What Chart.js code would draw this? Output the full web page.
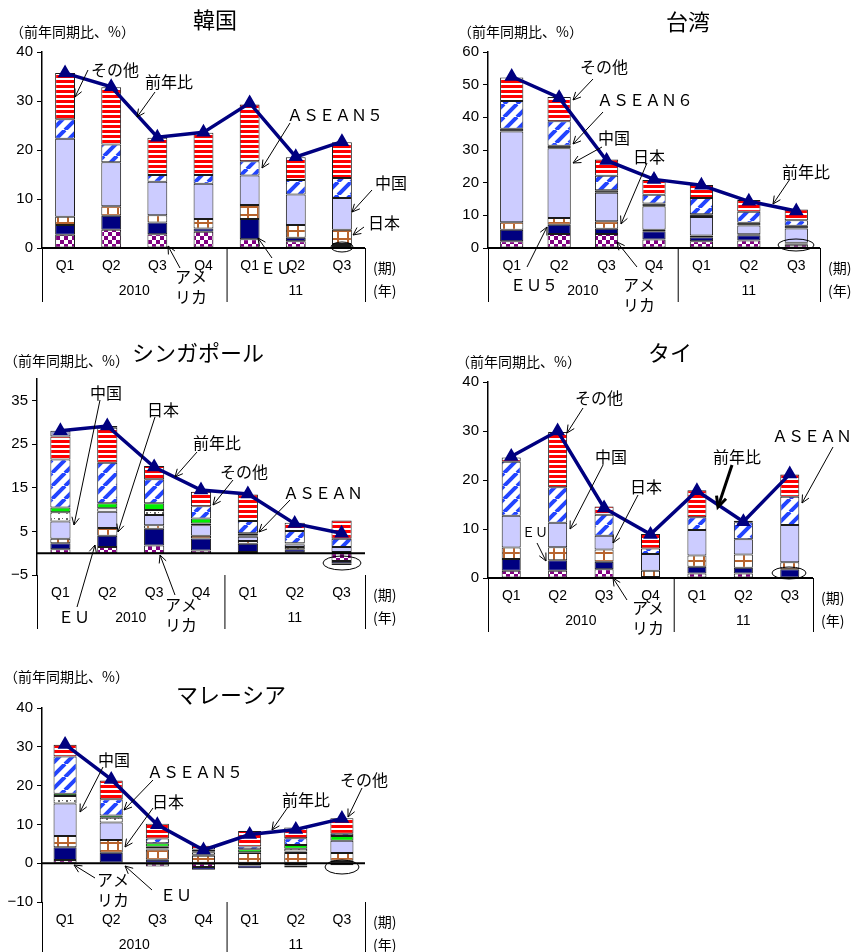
<!DOCTYPE html>
<html lang="ja">
<head>
<meta charset="utf-8">
<script src="https://cdn.jsdelivr.net/npm/chart.js@4.4.1/dist/chart.umd.min.js"></script>
<style>
  html, body { margin: 0; padding: 0; background: #fff; width: 852px; height: 952px; overflow: hidden; position: relative; }
  canvas { position: absolute; }
</style>
</head>
<body>
<canvas id="kr" width="426" height="330" style="left:0;top:0"></canvas>
<canvas id="tw" width="426" height="330" style="left:426px;top:0"></canvas>
<canvas id="sg" width="426" height="330" style="left:0;top:330px"></canvas>
<canvas id="th" width="426" height="330" style="left:426px;top:330px"></canvas>
<canvas id="my" width="426" height="292" style="left:0;top:660px"></canvas>
<script>
const quarters = ['Q1', 'Q2', 'Q3', 'Q4', 'Q1', 'Q2', 'Q3'];
const years = ['2010', '11'];

// 韓国
const krUS    = [2.7, 3.7, 2.8, 3.3, 1.8, 1.4, 0.4];
const krEU    = [2.0, 2.9, 2.4, 0.7, 4.1, 0.7, 0.4];
const krJP    = [1.7, 1.9, 1.5, 1.9, 2.9, 2.6, 2.9];
const krCN    = [15.9, 9.0, 6.8, 7.2, 6.0, 6.2, 6.5];
const krASEAN = [4.0, 3.6, 1.4, 1.8, 2.9, 3.0, 4.1];
const krOther = [9.4, 11.7, 7.6, 8.6, 11.6, 4.6, 7.3];
const krTotal = [35.7, 32.9, 22.6, 23.6, 29.6, 18.6, 21.7];
const krTicks = [0, 10, 20, 30, 40];

// 台湾
const twUS    = [2.1, 4.3, 4.3, 2.6, 2.1, 2.3, 1.0];
const twEU    = [3.5, 2.8, 1.6, 2.5, 1.2, 1.6, 0.4];
const twJP    = [2.3, 2.1, 2.3, 0.5, 0.5, 0.3, 0.2];
const twCN    = [27.8, 21.3, 8.7, 7.2, 5.7, 2.7, 4.4];
const twHK    = [0.8, 0.8, 0.8, 0.8, 0.8, 0.8, 0.8];
const twASEAN = [8.5, 7.5, 4.4, 2.7, 5.0, 3.4, 1.7];
const twOther = [7.2, 7.4, 5.0, 4.5, 4.0, 3.6, 3.3];
const twTotal = [52.5, 46.0, 26.8, 21.0, 19.2, 14.3, 11.3];
const twTicks = [0, 10, 20, 30, 40, 50, 60];

// シンガポール
const sgUS    = [0.9, 1.4, 1.8, 0.6, 0.3, 0.2, -1.8];
const sgEU    = [1.4, 2.6, 3.8, 2.8, 1.9, 0.7, -0.5];
const sgJP    = [1.0, 1.8, 0.8, 0.6, 0.6, 0.5, 0.3];
const sgCN    = [4.0, 3.7, 2.4, 2.4, 1.0, 0.6, 1.1];
const sgHK    = [2.1, 0.8, 1.1, 0.4, 0.3, 0.2, 0.0];
const sgNIE   = [1.1, 1.2, 1.6, 1.2, 0.5, 0.1, -0.4];
const sgASEAN = [11.0, 9.3, 5.5, 2.8, 2.8, 2.8, 1.9];
const sgOther = [5.3, 8.0, 3.0, 3.3, 6.1, 1.9, 4.2];
const sgMisc  = [1.3, 0.4, 0, 0, 0, 0, 0];
const sgTotal = [28.1, 29.2, 19.8, 14.5, 13.6, 6.8, 4.6];
const sgTicks = [-5, 5, 15, 25, 35];

// タイ
const thUS    = [1.5, 1.5, 1.8, 0.1, 0.9, 0.9, 0.0];
const thEU    = [2.4, 2.1, 1.5, 0.1, 1.4, 1.2, 1.8];
const thJP    = [2.3, 2.7, 2.5, 1.3, 2.3, 2.7, 1.4];
const thCN    = [6.5, 5.0, 2.8, 3.4, 5.2, 3.1, 7.6];
const thASEAN = [11.0, 7.2, 4.3, 1.1, 2.6, 3.5, 5.8];
const thOther = [0.9, 11.3, 1.7, 3.0, 5.5, 0.3, 4.5];
const thTotal = [24.8, 30.0, 14.3, 8.9, 17.8, 11.5, 21.2];
const thTicks = [0, 10, 20, 30, 40];

// マレーシア
const myUS    = [0.85, 0.2, -0.85, -1.0, -0.6, -0.6, -0.5];
const myEU    = [3.25, 2.5, 0.86, -0.7, -0.7, -0.5, 0.6];
const myJP    = [2.9, 3.3, 2.7, 1.9, 2.6, 2.6, 2.0];
const myCN    = [8.4, 4.5, 0.2, 0.3, 0.2, 0.4, 3.2];
const myHK    = [1.9, 1.2, 0.5, 0.6, 0.0, 0.7, 0.0];
const myNIE   = [0.6, 0.6, 0.9, 0.3, 0.8, 1.0, 1.2];
const myASEAN = [9.6, 4.2, 1.2, 0.4, 0.7, 1.7, 0.6];
const myOther = [3.0, 4.8, 3.8, 1.0, 4.0, 2.8, 4.0];
const myTotal = [30.6, 21.6, 9.9, 3.4, 7.4, 8.7, 11.5];
const myTicks = [-10, 0, 10, 20, 30, 40];

const JP = '"Noto Sans CJK JP", "Noto Sans", sans-serif';
const LAT = '"Liberation Sans", Arial, sans-serif';

function pattern(w, h, paint) {
  const c = document.createElement('canvas');
  c.width = w; c.height = h;
  const g = c.getContext('2d');
  paint(g, w, h);
  return g.createPattern(c, 'repeat');
}

const fill = {
  us: pattern(8, 8, g => {
    g.fillStyle = '#800080'; g.fillRect(0, 0, 8, 8);
    g.fillStyle = '#fff'; g.fillRect(0, 0, 4, 4); g.fillRect(4, 4, 4, 4);
  }),
  eu: '#000080',
  jp: pattern(10, 8, g => {
    g.fillStyle = '#fff'; g.fillRect(0, 0, 10, 8);
    g.fillStyle = '#b8642e'; g.fillRect(0, 6, 10, 2); g.fillRect(7, 0, 2, 8);
  }),
  cn: '#ccccff',
  hk: pattern(8, 6, g => {
    g.fillStyle = '#fff'; g.fillRect(0, 0, 8, 6);
    g.fillStyle = '#666'; g.fillRect(2, 2, 2, 2); g.fillRect(6, 2, 1, 1);
  }),
  nie: '#00ee00',
  blk: '#000',
  asean: pattern(13, 13, g => {
    g.fillStyle = '#fff'; g.fillRect(0, 0, 13, 13);
    g.strokeStyle = '#2244ff'; g.lineWidth = 4;
    g.beginPath();
    for (const o of [-13, 0, 13]) { g.moveTo(o, 13); g.lineTo(o + 13, 0); }
    g.stroke();
  }),
  other: pattern(4, 5, g => {
    g.fillStyle = '#fff'; g.fillRect(0, 0, 4, 5);
    g.fillStyle = '#ff0000'; g.fillRect(0, 0, 4, 3);
  }),
  misc: '#9c9cc8'
};

function arrow(ctx, x1, y1, x2, y2, lw) {
  ctx.lineWidth = lw;
  ctx.beginPath(); ctx.moveTo(x1, y1); ctx.lineTo(x2, y2); ctx.stroke();
  const a = Math.atan2(y2 - y1, x2 - x1), L = 7 + lw * 1.5;
  ctx.beginPath();
  ctx.moveTo(x2 - L * Math.cos(a - 0.45), y2 - L * Math.sin(a - 0.45));
  ctx.lineTo(x2, y2);
  ctx.lineTo(x2 - L * Math.cos(a + 0.45), y2 - L * Math.sin(a + 0.45));
  ctx.stroke();
}

function decor(p) {
  return {
    id: 'decor',
    afterDatasetsDraw(chart) {
      const { ctx, chartArea: a, scales: { y } } = chart;
      const z = y.getPixelForValue(0);
      ctx.save();
      ctx.strokeStyle = '#000'; ctx.lineWidth = 2;
      ctx.beginPath(); ctx.moveTo(a.left, z); ctx.lineTo(a.right, z); ctx.stroke();
      ctx.restore();
    },
    afterDraw(chart) {
      const { ctx, chartArea: a, scales: { x } } = chart;
      const b = a.bottom;
      ctx.save();
      ctx.fillStyle = '#000'; ctx.strokeStyle = '#000';
      ctx.textBaseline = 'middle';

      // title and unit
      ctx.font = '22px ' + JP; ctx.textAlign = 'center';
      ctx.fillText(p.title, p.titleX, p.titleY);
      ctx.font = '14px ' + JP; ctx.textAlign = 'left';
      ctx.fillText('（前年同期比、%）', p.unitX, p.unitY);

      // category table
      ctx.lineWidth = 1;
      const sep = (x.getPixelForValue(3) + x.getPixelForValue(4)) / 2;
      ctx.beginPath();
      for (const px of [a.left, sep, a.right]) { ctx.moveTo(px + 0.5, b); ctx.lineTo(px + 0.5, b + 54); }
      ctx.stroke();
      ctx.font = '14px ' + LAT; ctx.textAlign = 'center';
      ctx.fillText(years[0], (x.getPixelForValue(0) + x.getPixelForValue(3)) / 2, b + 43);
      ctx.fillText(years[1], x.getPixelForValue(5), b + 43);
      ctx.font = '14px ' + JP; ctx.textAlign = 'left';
      ctx.fillText('(期)', a.right + 8, b + 20);
      ctx.fillText('(年)', a.right + 8, b + 43);

      // notes with arrows
      for (const n of p.notes) {
        ctx.font = (n.size || 16) + 'px ' + JP;
        n.t.split('\n').forEach((line, i) => ctx.fillText(line, n.x, n.y + i * 20));
        arrow(ctx, n.ax, n.ay, n.bx, n.by, n.lw || 1);
      }
      const e = p.ellipse;
      ctx.lineWidth = 1;
      ctx.beginPath(); ctx.ellipse(e[0], e[1], e[2], e[3], 0, 0, Math.PI * 2); ctx.stroke();
      ctx.restore();
    }
  };
}

function drawPanel(id, p) {
  const canvas = document.getElementById(id);
  const W = canvas.width, H = canvas.height, A = p.area;
  const datasets = p.series.map(([label, data, bg]) => ({
    type: 'bar', label, data, backgroundColor: bg,
    borderColor: '#1a1a1a', borderWidth: 1, borderSkipped: false,
    stack: 'bars', order: 2, barPercentage: p.barPct, categoryPercentage: 1
  }));
  datasets.push({
    type: 'line', label: '前年比', data: p.total, stack: 'line', order: 0,
    borderColor: '#000080', borderWidth: 3.5, tension: 0,
    pointStyle: 'triangle', pointRadius: 5,
    pointBackgroundColor: '#000080', pointBorderColor: '#000080'
  });
  new Chart(canvas, {
    data: { labels: quarters, datasets },
    options: {
      responsive: false, animation: false, devicePixelRatio: 1,
      layout: { padding: { left: 0, top: A.top, right: W - A.right, bottom: 0 } },
      plugins: { legend: { display: false }, tooltip: { enabled: false } },
      scales: {
        x: {
          stacked: true,
          grid: { display: false, drawTicks: false },
          border: { display: false },
          ticks: { color: '#000', font: { family: LAT, size: 14 }, padding: 10, maxRotation: 0, autoSkip: false },
          afterFit: s => { s.height = H - A.bottom; }
        },
        y: {
          stacked: true, min: p.min, max: p.max,
          afterBuildTicks: s => { s.ticks = p.ticks.map(v => ({ value: v })); },
          ticks: { color: '#000', font: { family: LAT, size: 15 }, padding: 4,
                   callback: v => v < 0 ? '−' + Math.abs(v) : String(v) },
          grid: { drawOnChartArea: false, color: '#000', tickLength: 5 },
          border: { color: '#000', width: 1.5 },
          afterFit: s => { s.width = A.left; }
        }
      }
    },
    plugins: [decor(p)]
  });
}

drawPanel('kr', {
  title: '韓国', titleX: 215, titleY: 20, unitX: 10, unitY: 32,
  area: { left: 42, right: 365, top: 52, bottom: 248 },
  min: 0, max: 40, ticks: krTicks, barPct: 0.43, total: krTotal,
  series: [['アメリカ', krUS, fill.us], ['EU', krEU, fill.eu], ['日本', krJP, fill.jp],
           ['中国', krCN, fill.cn], ['ASEAN5', krASEAN, fill.asean], ['その他', krOther, fill.other]],
  notes: [
    { t: 'その他', x: 91, y: 70, ax: 88, ay: 70, bx: 75, by: 97 },
    { t: '前年比', x: 145, y: 82, ax: 155, ay: 92, bx: 137, by: 117 },
    { t: 'ＡＳＥＡＮ５', x: 287, y: 115, ax: 290, ay: 123, bx: 262, by: 168 },
    { t: '中国', x: 375, y: 183, ax: 372, ay: 190, bx: 352, by: 212 },
    { t: '日本', x: 368, y: 223, ax: 364, ay: 227, bx: 353, by: 235 },
    { t: 'ＥＵ', x: 260, y: 268, ax: 272, ay: 258, bx: 258, by: 238 },
    { t: 'アメ\nリカ', x: 175, y: 277, ax: 180, ay: 268, bx: 168, by: 246 }
  ],
  ellipse: [342, 247, 11, 5]
});

drawPanel('tw', {
  title: '台湾', titleX: 262, titleY: 22, unitX: 32, unitY: 32,
  area: { left: 62, right: 394, top: 52, bottom: 248 },
  min: 0, max: 60, ticks: twTicks, barPct: 0.49, total: twTotal,
  series: [['アメリカ', twUS, fill.us], ['EU5', twEU, fill.eu], ['日本', twJP, fill.jp],
           ['中国', twCN, fill.cn], ['香港', twHK, fill.blk], ['ASEAN6', twASEAN, fill.asean],
           ['その他', twOther, fill.other]],
  notes: [
    { t: 'その他', x: 154, y: 67, ax: 167, ay: 79, bx: 147, by: 100 },
    { t: 'ＡＳＥＡＮ６', x: 171, y: 100, ax: 177, ay: 112, bx: 147, by: 144 },
    { t: '中国', x: 172, y: 138, ax: 176, ay: 147, bx: 147, by: 163 },
    { t: '日本', x: 207, y: 157, ax: 221, ay: 163, bx: 195, by: 224 },
    { t: '前年比', x: 356, y: 172, ax: 364, ay: 179, bx: 347, by: 204 },
    { t: 'ＥＵ５', x: 84, y: 285, ax: 101, ay: 267, bx: 121, by: 227 },
    { t: 'アメ\nリカ', x: 197, y: 285, ax: 211, ay: 267, bx: 191, by: 242 }
  ],
  ellipse: [370, 245, 18, 6]
});

drawPanel('sg', {
  title: 'シンガポール', titleX: 198, titleY: 23, unitX: 4, unitY: 31,
  area: { left: 37, right: 365, top: 49, bottom: 245 },
  min: -5, max: 40, ticks: sgTicks, barPct: 0.43, total: sgTotal,
  series: [['アメリカ', sgUS, fill.us], ['EU', sgEU, fill.eu], ['日本', sgJP, fill.jp],
           ['中国', sgCN, fill.cn], ['香港', sgHK, fill.hk], ['NIEs', sgNIE, fill.nie],
           ['ASEAN', sgASEAN, fill.asean], ['その他', sgOther, fill.other], ['その他2', sgMisc, fill.misc]],
  notes: [
    { t: '中国', x: 90, y: 63, ax: 100, ay: 70, bx: 74, by: 195 },
    { t: '日本', x: 147, y: 80, ax: 155, ay: 87, bx: 118, by: 202 },
    { t: '前年比', x: 193, y: 113, ax: 197, ay: 122, bx: 175, by: 147 },
    { t: 'その他', x: 220, y: 142, ax: 233, ay: 150, bx: 213, by: 175 },
    { t: 'ＡＳＥＡＮ', x: 283, y: 163, ax: 290, ay: 170, bx: 259, by: 202 },
    { t: 'ＥＵ', x: 58, y: 287, ax: 77, ay: 277, bx: 95, by: 215 },
    { t: 'アメ\nリカ', x: 165, y: 275, ax: 175, ay: 265, bx: 160, by: 225 }
  ],
  ellipse: [342, 233, 19, 7]
});

drawPanel('th', {
  title: 'タイ', titleX: 244, titleY: 23, unitX: 30, unitY: 32,
  area: { left: 62, right: 387, top: 52, bottom: 248 },
  min: 0, max: 40, ticks: thTicks, barPct: 0.41, total: thTotal,
  series: [['アメリカ', thUS, fill.us], ['EU', thEU, fill.eu], ['日本', thJP, fill.jp],
           ['中国', thCN, fill.cn], ['ASEAN', thASEAN, fill.asean], ['その他', thOther, fill.other]],
  notes: [
    { t: 'その他', x: 149, y: 68, ax: 157, ay: 78, bx: 141, by: 103 },
    { t: '中国', x: 169, y: 127, ax: 177, ay: 135, bx: 144, by: 199 },
    { t: '日本', x: 204, y: 157, ax: 212, ay: 165, bx: 187, by: 213 },
    { t: '前年比', x: 287, y: 127, ax: 306, ay: 135, bx: 292, by: 177, lw: 3 },
    { t: 'ＡＳＥＡＮ', x: 346, y: 106, ax: 407, ay: 117, bx: 376, by: 173 },
    { t: 'ＥＵ', x: 96, y: 202, size: 13, ax: 111, ay: 213, bx: 120, by: 231 },
    { t: 'アメ\nリカ', x: 206, y: 278, ax: 201, ay: 270, bx: 187, by: 248 }
  ],
  ellipse: [363, 243, 17, 6]
});

drawPanel('my', {
  title: 'マレーシア', titleX: 231, titleY: 35, unitX: 4, unitY: 17,
  area: { left: 42, right: 365, top: 48, bottom: 242 },
  min: -10, max: 40, ticks: myTicks, barPct: 0.5, total: myTotal,
  series: [['アメリカ', myUS, fill.us], ['EU', myEU, fill.eu], ['日本', myJP, fill.jp],
           ['中国', myCN, fill.cn], ['香港', myHK, fill.hk], ['NIEs', myNIE, fill.nie],
           ['ASEAN5', myASEAN, fill.asean], ['その他', myOther, fill.other]],
  notes: [
    { t: '中国', x: 98, y: 100, ax: 103, ay: 107, bx: 80, by: 152 },
    { t: 'ＡＳＥＡＮ５', x: 147, y: 112, ax: 153, ay: 120, bx: 124, by: 150 },
    { t: '日本', x: 152, y: 142, ax: 153, ay: 148, bx: 125, by: 187 },
    { t: '前年比', x: 282, y: 140, ax: 288, ay: 147, bx: 272, by: 170 },
    { t: 'その他', x: 340, y: 120, ax: 362, ay: 128, bx: 348, by: 157 },
    { t: 'アメ\nリカ', x: 97, y: 220, ax: 95, ay: 218, bx: 74, by: 205 },
    { t: 'ＥＵ', x: 160, y: 235, ax: 152, ay: 230, bx: 125, by: 206 }
  ],
  ellipse: [342, 207, 17, 7]
});
</script>
</body>
</html>
